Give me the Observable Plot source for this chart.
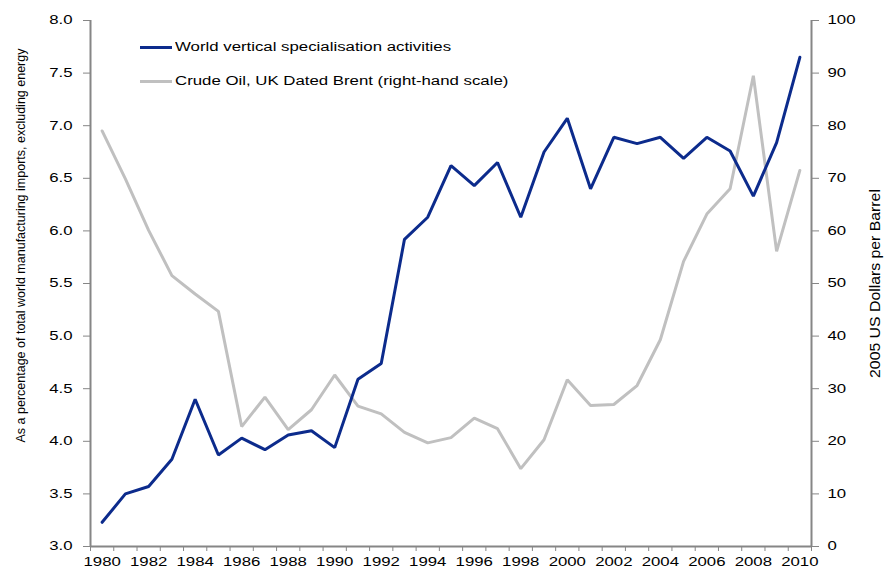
<!DOCTYPE html>
<html>
<head>
<meta charset="utf-8">
<script src="https://cdn.jsdelivr.net/npm/d3@7"></script>
<script src="https://cdn.jsdelivr.net/npm/@observablehq/plot@0.6"></script>
<style>
  html, body { margin: 0; padding: 0; background: #fff; }
  #wrap { position: relative; width: 885px; height: 568px; font-family: "Liberation Sans", Arial, sans-serif; }
  .lg { position: absolute; left: 140px; height: 0; }
  .lg .sw { position: absolute; left: 0; top: -1.5px; width: 32px; height: 3px; }
  .lg .tx { position: absolute; left: 35px; top: -8px; font-size: 12px; line-height: 16px; white-space: nowrap; transform: scaleX(1.4); transform-origin: 0 50%; color: #000; }
</style>
</head>
<body>
<div id="wrap"></div>
<script>
const years = d3.range(1980, 2011);
const vsValues = [3.23, 3.50, 3.57, 3.83, 4.40, 3.87, 4.03, 3.92, 4.06, 4.10, 3.94, 4.59, 4.74, 5.92, 6.13, 6.62, 6.43, 6.65, 6.13, 6.75, 7.07, 6.40, 6.89, 6.83, 6.89, 6.69, 6.89, 6.76, 6.33, 6.84, 7.65];
const oilValues = [79.0, 69.9, 60.1, 51.5, 48.0, 44.7, 22.8, 28.4, 22.2, 26.0, 32.6, 26.7, 25.2, 21.7, 19.7, 20.7, 24.4, 22.4, 14.8, 20.3, 31.7, 26.8, 27.0, 30.6, 39.3, 54.2, 63.2, 68.0, 89.5, 56.1, 71.5];
const leftTicks = [3.0, 3.5, 4.0, 4.5, 5.0, 5.5, 6.0, 6.5, 7.0, 7.5, 8.0];
const rightTicks = [0, 10, 20, 30, 40, 50, 60, 70, 80, 90, 100];
const yearLabels = d3.range(1980, 2011, 2);
const seriesNames = ["World vertical specialisation activities", "Crude Oil, UK Dated Brent (right-hand scale)"];
const leftTitle = "As a percentage of total world manufacturing imports, excluding energy";
const rightTitle = "2005 US Dollars per Barrel";

const blue = "#0c2b8c";
const grey = "#c0c0c0";
const axisGrey = "#868686";

// right scale 0..100 maps onto left scale 3..8
const leftMin = 3, leftMax = 8, rightMin = 0, rightMax = 100;
const toLeft = v => leftMin + (v - rightMin) * (leftMax - leftMin) / (rightMax - rightMin);

const vsData = years.map((y, i) => ({year: y, value: vsValues[i]}));
const oilData = years.map((y, i) => ({year: y, value: oilValues[i]}));
const boundaries = d3.range(years[0] - 0.5, years[years.length - 1] + 1, 1);

const chart = Plot.plot({
  width: 885,
  height: 568,
  marginLeft: 90,
  marginRight: 74,
  marginTop: 20,
  marginBottom: 22,
  style: {fontFamily: "'Liberation Sans', Arial, sans-serif", fontSize: "12px", color: "#000", background: "#fff"},
  x: {domain: [years[0] - 0.5, years[years.length - 1] + 0.5]},
  y: {domain: [leftMin, leftMax]},
  marks: [
    // x axis: boundary ticks + centred labels
    Plot.axisX({ticks: boundaries, tickFormat: () => "", tickSize: 5, stroke: axisGrey, label: null}),
    Plot.axisX({ticks: yearLabels, tickFormat: d => String(d), tickSize: 0, tickPadding: 11, label: null, fill: "#000"}),
    // left axis
    Plot.axisY({anchor: "left", ticks: leftTicks, tickFormat: d3.format(".1f"), tickSize: 7, tickPadding: 11, stroke: axisGrey, label: null, fill: "#000"}),
    // right axis
    Plot.axisY({anchor: "right", ticks: rightTicks.map(toLeft), tickFormat: d => String(Math.round((d - leftMin) * (rightMax - rightMin) / (leftMax - leftMin) + rightMin)), tickSize: 7, tickPadding: 9, stroke: axisGrey, label: null, fill: "#000"}),
    // axis lines
    Plot.ruleX([years[0] - 0.5, years[years.length - 1] + 0.5], {stroke: axisGrey, strokeWidth: 2}),
    Plot.ruleY([leftMin], {stroke: axisGrey, strokeWidth: 2}),
    // series
    Plot.line(oilData, {x: "year", y: d => toLeft(d.value), stroke: grey, strokeWidth: 3, strokeLinejoin: "miter"}),
    Plot.line(vsData, {x: "year", y: "value", stroke: blue, strokeWidth: 3, strokeLinejoin: "miter"}),
    // axis titles
    Plot.text([leftTitle], {frameAnchor: "left", dx: -70, dy: -38, rotate: -90, fontSize: 12.5, fill: "#000", textAnchor: "middle"}),
    Plot.text([rightTitle], {frameAnchor: "right", dx: 64, dy: 0, rotate: -90, fontSize: 14, fill: "#000", textAnchor: "middle"})
  ]
});

// horizontal text is wide in the reference: stretch non-rotated labels horizontally;
// the right-hand title is long and thin: stretch it along its length
chart.querySelectorAll("text").forEach(t => {
  const tr = t.getAttribute("transform") || "";
  if (tr.includes("rotate")) {
    if (t.textContent === rightTitle) t.setAttribute("transform", tr + " scale(1.13,1)");
    return;
  }
  if (tr) {
    t.setAttribute("transform", tr + " scale(1.4,1)");
  } else {
    const x = +(t.getAttribute("x") || 0), y = +(t.getAttribute("y") || 0);
    t.setAttribute("transform", `translate(${x},${y}) scale(1.4,1) translate(${-x},${-y})`);
  }
});

const wrap = document.getElementById("wrap");
wrap.appendChild(chart);

const legendTops = [47, 81];
[blue, grey].forEach((c, i) => {
  const row = document.createElement("div");
  row.className = "lg";
  row.style.top = legendTops[i] + "px";
  row.innerHTML = `<div class="sw" style="background:${c}"></div><div class="tx"></div>`;
  row.querySelector(".tx").textContent = seriesNames[i];
  wrap.appendChild(row);
});
</script>
</body>
</html>
